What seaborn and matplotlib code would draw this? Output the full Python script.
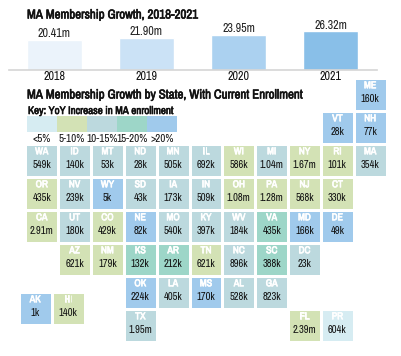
import matplotlib
matplotlib.use("Agg")
import matplotlib.pyplot as plt
import matplotlib.patheffects as pe
from matplotlib.colors import ListedColormap
from matplotlib import font_manager as fm
import numpy as np
import pandas as pd
import seaborn as sns

installed = {f.name for f in fm.fontManager.ttflist}
NARROW = next((n for n in ["Liberation Sans Narrow", "Arimo Narrow", "Archivo Narrow", "Roboto Condensed",
                           "PT Sans Narrow", "Liberation Sans"] if n in installed), "DejaVu Sans")

years = ["2018", "2019", "2020", "2021"]
members = [20.41, 21.90, 23.95, 26.32]
member_labels = ["20.41m", "21.90m", "23.95m", "26.32m"]
bar_colors = ["#ebf3fb", "#cbe2f6", "#abd1f0", "#89bfe8"]

tier_labels = ["<5%", "5-10%", "10-15%", "15-20%", ">20%"]
tier_colors = ["#d6ecf2", "#d3e2b5", "#bcd9de", "#9dd6c8", "#a0caec"]

tile_rows = [
    ["", "", "", "", "", "", "", "", "", "", "ME"],
    ["", "", "", "", "", "", "", "", "", "VT", "NH"],
    ["WA", "ID", "MT", "ND", "MN", "IL", "WI", "MI", "NY", "RI", "MA"],
    ["OR", "NV", "WY", "SD", "IA", "IN", "OH", "PA", "NJ", "CT", ""],
    ["CA", "UT", "CO", "NE", "MO", "KY", "WV", "VA", "MD", "DE", ""],
    ["", "AZ", "NM", "KS", "AR", "TN", "NC", "SC", "DC", "", ""],
    ["", "", "", "OK", "LA", "MS", "AL", "GA", "", "", ""],
    ["", "", "", "TX", "", "", "", "", "FL", "PR", ""],
]
offshore_row = [["AK", "HI"]]

enrollment = {
    "ME": "160k", "VT": "28k", "NH": "77k",
    "WA": "549k", "ID": "140k", "MT": "53k", "ND": "28k", "MN": "505k", "IL": "692k",
    "WI": "586k", "MI": "1.04m", "NY": "1.67m", "RI": "101k", "MA": "354k",
    "OR": "435k", "NV": "239k", "WY": "5k", "SD": "43k", "IA": "173k", "IN": "509k",
    "OH": "1.08m", "PA": "1.28m", "NJ": "568k", "CT": "330k",
    "CA": "2.91m", "UT": "180k", "CO": "429k", "NE": "82k", "MO": "540k", "KY": "397k",
    "WV": "184k", "VA": "435k", "MD": "166k", "DE": "49k",
    "AZ": "621k", "NM": "179k", "KS": "132k", "AR": "212k", "TN": "621k", "NC": "896k",
    "SC": "388k", "DC": "23k",
    "OK": "224k", "LA": "405k", "MS": "170k", "AL": "528k", "GA": "823k",
    "TX": "1.95m", "FL": "2.39m", "PR": "604k", "AK": "1k", "HI": "140k",
}
tier = {
    "ME": 4, "VT": 4, "NH": 4,
    "WA": 2, "ID": 2, "MT": 2, "ND": 2, "MN": 2, "IL": 2, "WI": 1, "MI": 2, "NY": 1, "RI": 1, "MA": 2,
    "OR": 1, "NV": 2, "WY": 4, "SD": 2, "IA": 2, "IN": 2, "OH": 1, "PA": 1, "NJ": 1, "CT": 1,
    "CA": 1, "UT": 2, "CO": 1, "NE": 4, "MO": 2, "KY": 2, "WV": 2, "VA": 3, "MD": 4, "DE": 4,
    "AZ": 1, "NM": 1, "KS": 3, "AR": 3, "TN": 1, "NC": 2, "SC": 3, "DC": 2,
    "OK": 4, "LA": 2, "MS": 4, "AL": 2, "GA": 2,
    "TX": 2, "FL": 1, "PR": 0, "AK": 4, "HI": 1,
}

W, H = 401, 356
sns.set_theme(style="white")
plt.rcParams["font.family"] = [NARROW, "DejaVu Sans"]
fig = plt.figure(figsize=(W / 100, H / 100), dpi=100, facecolor="white")


def px_axes(x0, y0, x1, y1):
    ax = fig.add_axes([x0 / W, 1 - y1 / H, (x1 - x0) / W, (y1 - y0) / H])
    ax.patch.set_alpha(0)
    return ax


def fs(px):
    return px * 0.72


def heavy(width, color):
    return [pe.withStroke(linewidth=width, foreground=color)]


# Bars
PX_PER_M = 1.47
top = px_axes(8.5, 20, 376.5, 70)
top.set_zorder(5)
df = pd.DataFrame({"year": years, "members": members})
sns.barplot(data=df, x="year", y="members", hue="year", palette=bar_colors, width=0.6,
            legend=False, saturation=1, ax=top)
top.set_xlim(-0.5, 3.5)
top.set_ylim(0, 50 / PX_PER_M)
top.set(xlabel="", ylabel="", yticks=[])
sns.despine(ax=top, left=True)
top.spines["bottom"].set_color("#d5d5d5")
top.spines["bottom"].set_linewidth(1.2)
top.tick_params(axis="x", length=0, pad=0.5, labelsize=fs(12), labelcolor="#111111")
for i, (v, lab) in enumerate(zip(members, member_labels)):
    top.text(i, v + 0.5, lab, ha="center", va="bottom", fontsize=fs(12), color="#222222")

for x, y, text, size in [
    (27, 15, "MA Membership Growth, 2018-2021", 12.9),
    (27, 95, "MA Membership Growth by State, With Current Enrollment", 12.9),
    (28, 111, "Key: YoY Increase in MA enrollment", 11),
]:
    fig.text(x / W, 1 - y / H, text, fontsize=fs(size), color="#111111", va="center", ha="left",
             path_effects=heavy(0.45, "#111111"), zorder=10)

cmap = ListedColormap(tier_colors)


def tile_map(ax, rows):
    codes = [[tier[s] if s else np.nan for s in r] for r in rows]
    frame = pd.DataFrame(codes, dtype=float)
    sns.heatmap(frame, ax=ax, cmap=cmap, vmin=-0.5, vmax=4.5, cbar=False, linewidths=2.0,
                linecolor="white", square=False, xticklabels=False, yticklabels=False)
    ax.patch.set_alpha(0)
    for r, row in enumerate(rows):
        for c, s in enumerate(row):
            if s:
                ax.text(c + 0.5, r + 0.22, s, ha="center", va="center", color="white",
                        fontsize=fs(10), path_effects=heavy(0.5, "white"))
                ax.text(c + 0.5, r + 0.63, enrollment[s], ha="center", va="center",
                        color="#111111", fontsize=fs(10.5))


# Main tile grid
CELL_X, CELL_Y = 32.85, 33.0
main = px_axes(25.3, 78, 25.3 + 11 * CELL_X, 78 + 8 * CELL_Y)
tile_map(main, tile_rows)

# Alaska and Hawaii
off = px_axes(18.8, 292, 18.8 + 2 * CELL_X, 292 + CELL_Y)
tile_map(off, offshore_row)

# Key swatches
key = px_axes(26.5, 116.5, 177.5, 132.5)
sns.heatmap(pd.DataFrame([list(range(5))], dtype=float), ax=key, cmap=cmap, vmin=-0.5, vmax=4.5,
            cbar=False, linewidths=0, xticklabels=False, yticklabels=False)
for i, lab in enumerate(tier_labels):
    key.text(i + 0.5, 1.42, lab, ha="center", va="center", fontsize=fs(11), color="#111111",
             clip_on=False)

fig.savefig("out.png", dpi=100, facecolor="white")
